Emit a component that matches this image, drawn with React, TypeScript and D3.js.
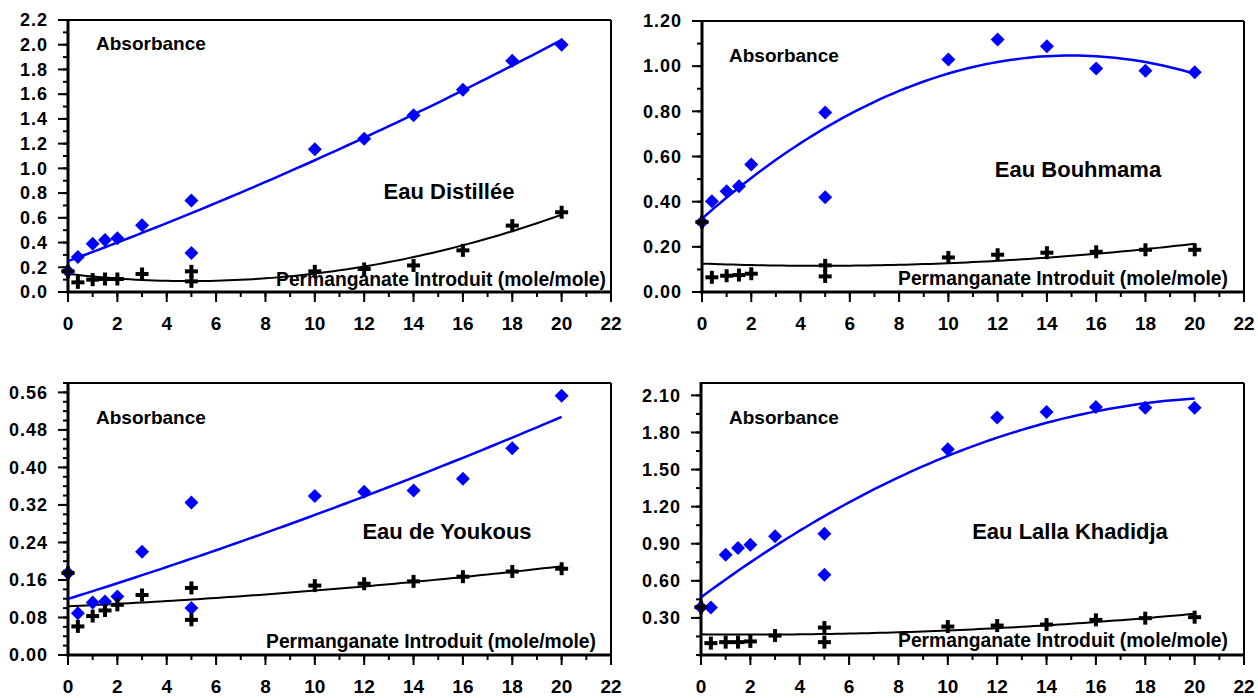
import React from 'react';
import * as d3 from 'd3';

// ---- Data ----
const xFull = [0, 0.4, 1, 1.5, 2, 3, 5, 5, 10, 12, 14, 16, 18, 20];
const xBouhmama = [0, 0.4, 1, 1.5, 2, 5, 5, 10, 12, 14, 16, 18, 20];

const distilleeBlue = [0.167, 0.284, 0.39, 0.42, 0.435, 0.54, 0.74, 0.316, 1.154, 1.24, 1.43, 1.635, 1.87, 2.0];
const distilleeBlack = [0.167, 0.078, 0.1, 0.105, 0.105, 0.146, 0.167, 0.086, 0.167, 0.186, 0.215, 0.337, 0.537, 0.645];

const bouhmamaBlue = [0.31, 0.402, 0.446, 0.468, 0.565, 0.795, 0.42, 1.03, 1.118, 1.088, 0.99, 0.98, 0.973];
const bouhmamaBlack = [0.31, 0.065, 0.072, 0.075, 0.081, 0.118, 0.069, 0.153, 0.165, 0.174, 0.178, 0.187, 0.187];

const youkousBlue = [0.175, 0.089, 0.112, 0.114, 0.125, 0.22, 0.325, 0.1, 0.339, 0.348, 0.351, 0.376, 0.441, 0.553];
const youkousBlack = [0.175, 0.061, 0.083, 0.095, 0.107, 0.128, 0.143, 0.075, 0.148, 0.152, 0.157, 0.167, 0.178, 0.184];

const khadidjaBlue = [0.387, 0.385, 0.811, 0.865, 0.892, 0.96, 0.981, 0.65, 1.664, 1.92, 1.965, 2.006, 2.0, 2.0];
const khadidjaBlack = [0.387, 0.096, 0.104, 0.104, 0.11, 0.157, 0.222, 0.104, 0.23, 0.238, 0.246, 0.284, 0.298, 0.306];

const titles = ['Eau Distillée', 'Eau Bouhmama', 'Eau de Youkous', 'Eau Lalla Khadidja'];
const yLabel = 'Absorbance';
const xLabel = 'Permanganate Introduit (mole/mole)';
const xTickValues = [0, 2, 4, 6, 8, 10, 12, 14, 16, 18, 20, 22];

// ---- least-squares polynomial fit (trendline) ----
function polyfit(xs: number[], ys: number[], deg: number): number[] {
  const n = deg + 1;
  const A: number[][] = Array.from({ length: n }, () => new Array(n + 1).fill(0));
  for (let i = 0; i < xs.length; i++) {
    for (let r = 0; r < n; r++) {
      for (let c = 0; c < n; c++) A[r][c] += Math.pow(xs[i], r + c);
      A[r][n] += ys[i] * Math.pow(xs[i], r);
    }
  }
  for (let col = 0; col < n; col++) {
    let piv = col;
    for (let r = col + 1; r < n; r++) if (Math.abs(A[r][col]) > Math.abs(A[piv][col])) piv = r;
    [A[col], A[piv]] = [A[piv], A[col]];
    for (let r = 0; r < n; r++) {
      if (r === col) continue;
      const f = A[r][col] / A[col][col];
      for (let c = col; c <= n; c++) A[r][c] -= f * A[col][c];
    }
  }
  return A.map((row, i) => row[n] / row[i]);
}

const FONT = '"Liberation Sans", Arial, sans-serif';

type PanelCfg = {
  left: number; top: number; right: number; bottom: number;
  yMax: number; yMajor: number; yMinor: number; yStart: number; yFmt: string;
  xs: number[]; blue: number[]; black: number[];
  title: string; titleX: number; titleY: number;
  absX: number; absY: number; permX: number; permY: number;
};

const panels: PanelCfg[] = [
  { left: 68, top: 20, right: 611, bottom: 292, yMax: 2.2, yMajor: 0.2, yMinor: 0.1, yStart: 0, yFmt: '.1f',
    xs: xFull, blue: distilleeBlue, black: distilleeBlack, title: titles[0], titleX: 449, titleY: 199,
    absX: 96, absY: 50, permX: 606, permY: 286 },
  { left: 702, top: 21, right: 1244, bottom: 292, yMax: 1.2, yMajor: 0.2, yMinor: 0.1, yStart: 0, yFmt: '.2f',
    xs: xBouhmama, blue: bouhmamaBlue, black: bouhmamaBlack, title: titles[1], titleX: 1078, titleY: 177,
    absX: 729, absY: 62, permX: 1228, permY: 285 },
  { left: 68, top: 383, right: 611, bottom: 655, yMax: 0.58, yMajor: 0.08, yMinor: 0.02, yStart: 0, yFmt: '.2f',
    xs: xFull, blue: youkousBlue, black: youkousBlack, title: titles[2], titleX: 447, titleY: 539,
    absX: 96, absY: 424, permX: 596, permY: 648 },
  { left: 701, top: 383, right: 1244, bottom: 655, yMax: 2.2, yMajor: 0.3, yMinor: 0.15, yStart: 0.3, yFmt: '.2f',
    xs: xFull, blue: khadidjaBlue, black: khadidjaBlack, title: titles[3], titleX: 1070, titleY: 539,
    absX: 729, absY: 424, permX: 1228, permY: 647 },
];

function range(start: number, stop: number, step: number): number[] {
  const out: number[] = [];
  for (let i = 0; start + i * step <= stop + 1e-9; i++) out.push(+(start + i * step).toFixed(6));
  return out;
}

function Panel({ p }: { p: PanelCfg }) {
  const x = d3.scaleLinear().domain([0, 22]).range([p.left, p.right]);
  const y = d3.scaleLinear().domain([0, p.yMax]).range([p.bottom, p.top]);
  const fmt = d3.format(p.yFmt);
  const yMajorTicks = range(p.yStart, p.yMax, p.yMajor);
  const yMinorTicks = range(0, p.yMax, p.yMinor);
  const xMinorTicks = range(0, 22, 1);

  const fitBlue = polyfit(p.xs, p.blue, 2);
  const fitBlack = polyfit(p.xs, p.black, 2);
  const samples = d3.range(0, 20.001, 0.25);
  const line = d3.line<[number, number]>().x(d => x(d[0])).y(d => y(d[1])).curve(d3.curveLinear);
  const ev = (c: number[], v: number) => c[0] + c[1] * v + c[2] * v * v;
  const blueLine = line(samples.map(v => [v, ev(fitBlue, v)] as [number, number])) || '';
  const blackLine = line(samples.map(v => [v, ev(fitBlack, v)] as [number, number])) || '';

  const d = 7; // diamond half-size
  const c = 6.5; // cross half-size

  return (
    <g>
      {/* frame */}
      <line x1={p.left} x2={p.right} y1={p.top} y2={p.top} stroke="#000" strokeWidth={2} />
      <line x1={p.right} x2={p.right} y1={p.top} y2={p.bottom} stroke="#000" strokeWidth={2} />
      {/* y axis */}
      <line x1={p.left} x2={p.left} y1={p.top - 1} y2={p.bottom + 1.5} stroke="#000" strokeWidth={3} />
      {yMinorTicks.map((t, i) => (
        <line key={'ym' + i} x1={p.left - 5} x2={p.left} y1={y(t)} y2={y(t)} stroke="#000" strokeWidth={2} />
      ))}
      {yMajorTicks.map((t, i) => (
        <g key={'yM' + i}>
          <line x1={p.left - 10} x2={p.left} y1={y(t)} y2={y(t)} stroke="#000" strokeWidth={2} />
          <text x={p.left - 20} y={y(t)} dy="0.35em" textAnchor="end" fontFamily={FONT} fontWeight="bold"
            fontSize={18} letterSpacing={1} fill="#000">{fmt(t)}</text>
        </g>
      ))}
      {/* x axis */}
      <line x1={p.left - 1.5} x2={p.right + 1} y1={p.bottom} y2={p.bottom} stroke="#000" strokeWidth={3} />
      {xMinorTicks.map((t, i) => (
        <line key={'xm' + i} x1={x(t)} x2={x(t)} y1={p.bottom} y2={p.bottom + 5} stroke="#000" strokeWidth={2} />
      ))}
      {xTickValues.map((t, i) => (
        <g key={'xM' + i}>
          <line x1={x(t)} x2={x(t)} y1={p.bottom} y2={p.bottom + 10} stroke="#000" strokeWidth={2} />
          <text x={x(t)} y={p.bottom + 38} textAnchor="middle" fontFamily={FONT} fontWeight="bold"
            fontSize={19} fill="#000">{t}</text>
        </g>
      ))}
      {/* trendlines */}
      <path d={blueLine} fill="none" stroke="#0000FF" strokeWidth={2.5} />
      <path d={blackLine} fill="none" stroke="#000" strokeWidth={2} />
      {/* blue diamonds */}
      {p.xs.map((v, i) => (
        <path key={'b' + i}
          d={`M${x(v)},${y(p.blue[i]) - d}L${x(v) + d},${y(p.blue[i])}L${x(v)},${y(p.blue[i]) + d}L${x(v) - d},${y(p.blue[i])}Z`}
          fill="#0000FF" />
      ))}
      {/* black crosses */}
      {p.xs.map((v, i) => (
        <g key={'k' + i}>
          <line x1={x(v) - c} x2={x(v) + c} y1={y(p.black[i])} y2={y(p.black[i])} stroke="#000" strokeWidth={4} />
          <line x1={x(v)} x2={x(v)} y1={y(p.black[i]) - c} y2={y(p.black[i]) + c} stroke="#000" strokeWidth={4} />
        </g>
      ))}
      {/* labels */}
      <text x={p.absX} y={p.absY} fontFamily={FONT} fontWeight="bold" fontSize={19} fill="#000">{yLabel}</text>
      <text x={p.titleX} y={p.titleY} textAnchor="middle" fontFamily={FONT} fontWeight="bold" fontSize={22} fill="#000">{p.title}</text>
      <text x={p.permX} y={p.permY} textAnchor="end" fontFamily={FONT} fontWeight="bold" fontSize={19.3} fill="#000">{xLabel}</text>
    </g>
  );
}

export default function App() {
  return (
    <svg width={1258} height={698} style={{ position: 'absolute', left: 0, top: 0, background: '#fff' }}>
      <rect x={0} y={0} width={1258} height={698} fill="#fff" />
      {panels.map((p, i) => <Panel key={i} p={p} />)}
    </svg>
  );
}
